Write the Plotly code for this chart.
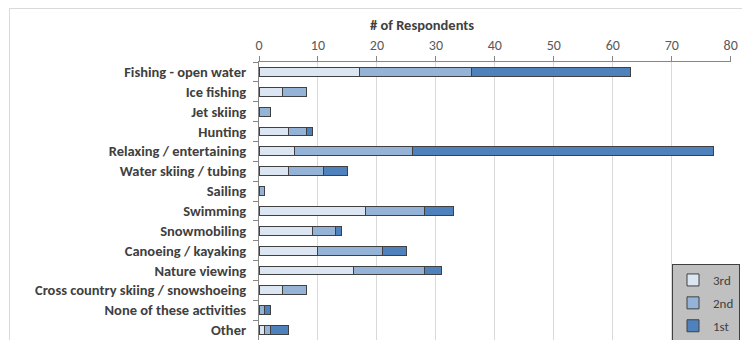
import plotly.graph_objects as go

activities = [
    "Fishing - open water",
    "Ice fishing",
    "Jet skiing",
    "Hunting",
    "Relaxing / entertaining",
    "Water skiing / tubing",
    "Sailing",
    "Swimming",
    "Snowmobiling",
    "Canoeing / kayaking",
    "Nature viewing",
    "Cross country skiing / snowshoeing",
    "None of these activities",
    "Other",
]
third = [17, 4, 0, 5, 6, 5, 0, 18, 9, 10, 16, 4, 0, 1]
second = [19, 4, 2, 3, 20, 6, 1, 10, 4, 11, 12, 4, 1, 1]
first = [27, 0, 0, 1, 51, 4, 0, 5, 1, 4, 3, 0, 1, 3]

series = [("3rd", third, "#dce6f2"), ("2nd", second, "#95b3d7"), ("1st", first, "#4f81bd")]

# the page body adds an 8px margin, so lay out in page pixels and shift;
# keep the figure small enough that the page does not scroll
OFF = 8
W, H = 750 - 2 * OFF, 348 - 2 * OFF
L, R, T, B = 259 - OFF, 750 - 2 * OFF - (731 - OFF), 62 - OFF, 0
pw, ph = W - L - R, H - T - B


def px(x):
    return (x - OFF - L) / pw


def py(y):
    return (H - B - (y - OFF)) / ph


FONT = "Carlito, Lato, 'Liberation Sans', sans-serif"

fig = go.Figure()
for name, vals, color in series:
    fig.add_trace(go.Bar(
        y=activities, x=vals, name=name, orientation="h", legendgroup=name,
        marker=dict(color=color, line=dict(color="#404040", width=1)),
        width=0.45,
    ))

fig.update_layout(
    width=W, height=H,
    margin=dict(l=L, r=R, t=T, b=B, autoexpand=False),
    barmode="stack",
    plot_bgcolor="white", paper_bgcolor="white",
    font=dict(family=FONT, color="#404040"),
    legend=dict(
        x=px(706), xanchor="center",
        y=py(342), yanchor="bottom",
        bgcolor="#c0c0c0", bordercolor="#404040", borderwidth=1,
        font=dict(size=13, color="#404040"),
        itemwidth=30, traceorder="grouped", tracegroupgap=3,
    ),
    shapes=[dict(
        type="rect", xref="paper", yref="paper",
        x0=px(9.5), x1=2, y0=-1, y1=py(8.5),
        line=dict(color="#d9d9d9", width=1), layer="below",
    )],
    annotations=[dict(
        text="<b># of Respondents</b>", xref="paper", yref="paper",
        x=px(422), y=py(25), xanchor="center", yanchor="middle",
        showarrow=False,
        font=dict(size=14.5, color="#404040"),
    )],
)
fig.update_xaxes(
    side="top", range=[0, 80.05], tickvals=[0, 10, 20, 30, 40, 50, 60, 70, 80],
    automargin=False,
    showgrid=True, gridcolor="#d9d9d9", gridwidth=1,
    showline=True, linecolor="#868686", linewidth=1,
    ticks="outside", ticklen=5, tickcolor="#868686",
    tickfont=dict(size=14, color="#595959"),
    zeroline=False,
)
fig.update_yaxes(
    autorange="reversed", automargin=False,
    showline=True, linecolor="#868686", linewidth=1,
    ticks="outside", ticklen=5, tickcolor="#868686", tickson="boundaries",
    ticklabelstandoff=9,
    tickfont=dict(size=14.5, color="#404040", weight="bold"),
    showgrid=False,
)

fig.write_html("out.html")
